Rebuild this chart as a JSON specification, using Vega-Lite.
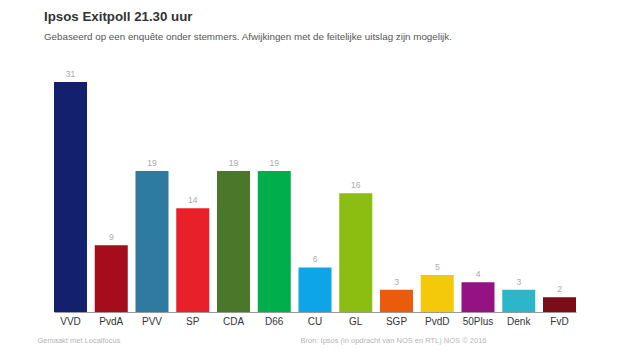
{
  "$schema": "https://vega.github.io/schema/vega-lite/v6.json",
  "autosize": "none",
  "width": 522,
  "height": 230,
  "padding": {"left": 54, "top": 82, "right": 44, "bottom": 43},
  "background": "white",
  "title": {
    "text": "Ipsos Exitpoll 21.30 uur",
    "subtitle": "Gebaseerd op een enquête onder stemmers. Afwijkingen met de feitelijke uitslag zijn mogelijk.",
    "anchor": "start",
    "frame": "group",
    "dx": -10,
    "offset": 28,
    "font": "Liberation Sans",
    "fontSize": 13.3,
    "fontWeight": "bold",
    "color": "#333333",
    "subtitleFont": "Liberation Sans",
    "subtitleFontSize": 9.8,
    "subtitleColor": "#555555",
    "subtitlePadding": 9
  },
  "data": {
    "values": [
      {"partij": "VVD", "zetels": 31, "kleur": "#12206e"},
      {"partij": "PvdA", "zetels": 9, "kleur": "#a50d1c"},
      {"partij": "PVV", "zetels": 19, "kleur": "#2f7ba0"},
      {"partij": "SP", "zetels": 14, "kleur": "#e8202a"},
      {"partij": "CDA", "zetels": 19, "kleur": "#4b772a"},
      {"partij": "D66", "zetels": 19, "kleur": "#00af4b"},
      {"partij": "CU", "zetels": 6, "kleur": "#0ea5e8"},
      {"partij": "GL", "zetels": 16, "kleur": "#8bbd12"},
      {"partij": "SGP", "zetels": 3, "kleur": "#ea5b0c"},
      {"partij": "PvdD", "zetels": 5, "kleur": "#f3c90a"},
      {"partij": "50Plus", "zetels": 4, "kleur": "#951283"},
      {"partij": "Denk", "zetels": 3, "kleur": "#2db6c9"},
      {"partij": "FvD", "zetels": 2, "kleur": "#7b0d17"}
    ]
  },
  "encoding": {
    "x": {
      "field": "partij",
      "type": "nominal",
      "sort": null,
      "scale": {"paddingInner": 0.19, "paddingOuter": 0},
      "axis": {
        "title": "Gemaakt met Localfocus",
        "titleFont": "Liberation Sans",
        "titleFontSize": 7.5,
        "titleFontWeight": "normal",
        "titleColor": "#b5b5b5",
        "titleAlign": "left",
        "titleBaseline": "middle",
        "titleAnchor": "start",
        "titleX": -17,
        "titleY": 28,
        "labelAngle": 0,
        "labelFont": "Liberation Sans",
        "labelFontSize": 10,
        "labelColor": "#333333",
        "labelPadding": 4,
        "ticks": false,
        "domainColor": "#999999",
        "domainWidth": 1
      }
    },
    "y": {
      "field": "zetels",
      "type": "quantitative",
      "scale": {"domain": [0, 31], "nice": false},
      "axis": {
        "title": "Bron: Ipsos (in opdracht van NOS en RTL)  NOS © 2016",
        "titleFont": "Liberation Sans",
        "titleFontSize": 7.5,
        "titleFontWeight": "normal",
        "titleColor": "#b5b5b5",
        "titleAngle": 0,
        "titleAlign": "right",
        "titleBaseline": "middle",
        "titleX": 432,
        "titleY": 258,
        "domain": false,
        "ticks": false,
        "labels": false,
        "grid": false
      }
    }
  },
  "layer": [
    {
      "mark": {"type": "bar"},
      "encoding": {
        "color": {"field": "kleur", "type": "nominal", "scale": null, "legend": null}
      }
    },
    {
      "mark": {"type": "text", "baseline": "bottom", "dy": -3, "font": "Liberation Sans", "fontSize": 8.5, "color": "#aaaaaa"},
      "encoding": {"text": {"field": "zetels", "type": "quantitative"}}
    }
  ],
  "config": {"view": {"stroke": null}}
}
